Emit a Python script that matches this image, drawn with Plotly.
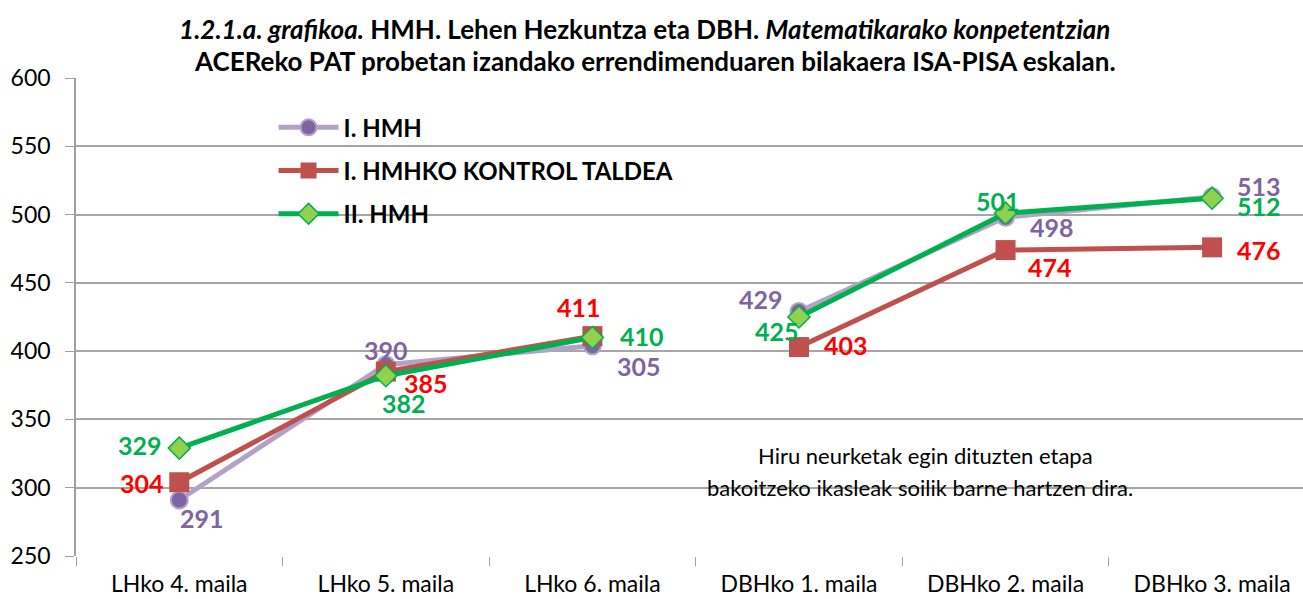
import plotly.graph_objects as go

categories = ["LHko 4. maila", "LHko 5. maila", "LHko 6. maila",
              "DBHko 1. maila", "DBHko 2. maila", "DBHko 3. maila"]
hmh1 = [291, 390, 404, 429, 498, 513]
hmh1_labels = ["291", "390", "305", "429", "498", "513"]
kontrol = [304, 385, 411, 403, 474, 476]
kontrol_labels = ["304", "385", "411", "403", "474", "476"]
hmh2 = [329, 382, 410, 425, 501, 512]
hmh2_labels = ["329", "382", "410", "425", "501", "512"]

series_names = ["I. HMH", "I. HMHKO KONTROL TALDEA", "II. HMH"]
# LH stage = first 3 categories, DBH stage = last 3 (lines are not joined between stages)
stage_splits = [(0, 3), (3, 6)]

title_line1 = "<b><i>1.2.1.a. grafikoa.</i> HMH. Lehen Hezkuntza eta DBH. <i>Matematikarako konpetentzian</i></b>"
title_line2 = "<b>ACEReko PAT probetan izandako errendimenduaren bilakaera ISA-PISA eskalan.</b>"
note_lines = ["Hiru neurketak egin dituzten etapa",
              "bakoitzeko ikasleak soilik barne hartzen dira."]

FONT = "Lato, 'Open Sans', sans-serif"
purple_line = "#B3A2C7"
purple_mark = "#8064A2"
red = "#C0504D"
green = "#00B050"
green_fill = "#92D050"

styles = [
    dict(line=dict(color=purple_line, width=5),
         marker=dict(symbol="circle", size=17, color=purple_mark, line=dict(color=purple_line, width=2))),
    dict(line=dict(color=red, width=5),
         marker=dict(symbol="square", size=20, color=red)),
    dict(line=dict(color=green, width=5),
         marker=dict(symbol="diamond", size=17, color=green_fill, line=dict(color=green, width=1.5))),
]

fig = go.Figure()
for i, (name, vals, st) in enumerate(zip(series_names, [hmh1, kontrol, hmh2], styles)):
    for j, (a, b) in enumerate(stage_splits):
        fig.add_trace(go.Scatter(
            x=categories[a:b], y=vals[a:b], name=name, mode="lines+markers",
            legendgroup="g%d" % i, showlegend=(j == 0), **st))

# label offsets (pixels) per point
hmh1_off = [(23, -18), (0, 15), (47, -20), (-38, 13), (46, -10), (47, 11)]
kontrol_off = [(-37, -1), (40, -11), (-13, 29), (47, 2), (44, -17), (47, -3)]
hmh2_off = [(-39, 3), (18, -27), (50, 1), (-22, -14), (-8, 12), (47, -8)]

def add_labels(values, labels, offs, color):
    for c, v, t, (dx, dy) in zip(categories, values, labels, offs):
        fig.add_annotation(x=c, y=v, text=t, showarrow=False, xshift=dx, yshift=dy,
                           font=dict(family=FONT, size=25, color=color, weight="bold"))

add_labels(hmh1, hmh1_labels, hmh1_off, purple_mark)
add_labels(kontrol, kontrol_labels, kontrol_off, "#FF0000")
add_labels(hmh2, hmh2_labels, hmh2_off, green)

for txt, xx, yy in zip(note_lines, [0.692, 0.688], [0.211, 0.144]):
    fig.add_annotation(xref="paper", yref="paper", x=xx, y=yy, text=txt,
                       xanchor="center", yanchor="middle",
                       showarrow=False, align="center",
                       font=dict(family=FONT, size=22, color="#000000"))

fig.add_annotation(xref="paper", yref="paper", x=0.472, y=1.036, text=title_line2,
                   xanchor="center", yanchor="middle", showarrow=False,
                   font=dict(family=FONT, size=26, color="#000000"))

fig.update_layout(
    width=1303, height=599,
    margin=dict(l=76, r=0, t=78, b=43),
    paper_bgcolor="white", plot_bgcolor="white",
    font=dict(family=FONT, color="#000000"),
    title=dict(
        text=title_line1,
        x=0.4948, xanchor="center", y=1 - 30 / 599, yanchor="middle",
        font=dict(family=FONT, size=26, color="#000000")),
    legend=dict(x=0.161, y=0.943, xanchor="left", yanchor="top",
                bgcolor="rgba(0,0,0,0)", traceorder="grouped", tracegroupgap=9,
                font=dict(family=FONT, size=24, color="#000000", weight="bold"),
                itemwidth=60),
    xaxis=dict(type="category", range=[-0.5, 5.44], showgrid=False,
               ticks="outside", tickson="boundaries", ticklen=9, tickcolor="#A0A0A0",
               ticklabelstandoff=12,
               showline=False, tickfont=dict(family=FONT, size=23, color="#000000")),
    yaxis=dict(range=[250, 600], dtick=50, showgrid=True, gridcolor="#A6A6A6", gridwidth=1.5,
               showline=True, linecolor="#A0A0A0", linewidth=1.5,
               ticks="outside", ticklen=9, tickcolor="#A0A0A0", zeroline=False,
               ticklabelstandoff=10,
               tickfont=dict(family=FONT, size=23, color="#000000")),
)

fig.write_html("out.html", config={"displayModeBar": False},
               post_script="document.body.style.margin='0';document.body.style.padding='0';document.body.style.overflow='hidden';")
